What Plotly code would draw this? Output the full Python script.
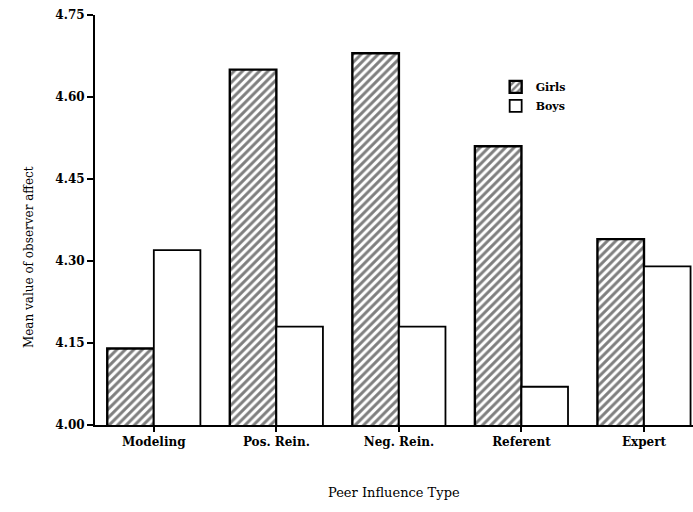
import plotly.graph_objects as go

categories = ["Modeling", "Pos. Rein.", "Neg. Rein.", "Referent", "Expert"]
girls = [4.14, 4.65, 4.68, 4.51, 4.34]
boys = [4.32, 4.18, 4.18, 4.07, 4.29]
y_ticks = [4.00, 4.15, 4.30, 4.45, 4.60, 4.75]

FONT = "DejaVu Serif"
x_idx = list(range(len(categories)))

fig = go.Figure()
fig.add_trace(go.Bar(
    x=x_idx, y=girls, name="Girls",
    width=0.38, offset=-0.38, base=0,
    marker=dict(color="white", line=dict(color="black", width=2.4),
                pattern=dict(shape="/", fgcolor="black", bgcolor="white",
                             size=6, solidity=0.5)),
))
fig.add_trace(go.Bar(
    x=x_idx, y=boys, name="Boys",
    width=0.38, offset=0.0, base=0,
    marker=dict(color="white", line=dict(color="black", width=1.8)),
))

fig.update_layout(
    width=693, height=512,
    margin=dict(l=95, r=0, t=15, b=87),
    paper_bgcolor="white", plot_bgcolor="white",
    barmode="overlay",
    showlegend=True,
    legend=dict(x=0.67, y=0.86, xanchor="left", yanchor="top",
                font=dict(family=FONT, size=11, color="black", weight="bold"),
                bgcolor="rgba(0,0,0,0)", tracegroupgap=0, itemwidth=30),
    font=dict(family=FONT, color="black"),
    xaxis=dict(
        range=[-0.48, 4.40],
        tickmode="array", tickvals=x_idx, ticktext=categories,
        showline=True, linecolor="black", linewidth=2,
        ticks="outside", ticklen=5, tickwidth=2, tickcolor="black",
        showgrid=False, zeroline=False,
        tickfont=dict(family=FONT, size=12, color="black", weight="bold"),
    ),
    yaxis=dict(
        range=[4.00, 4.75],
        tickmode="array", tickvals=y_ticks,
        ticktext=[f"{v:.2f}" for v in y_ticks],
        showline=True, linecolor="black", linewidth=2,
        ticks="outside", ticklen=6, tickwidth=2, tickcolor="black",
        showgrid=False, zeroline=False,
        tickfont=dict(family=FONT, size=12, color="black", weight="bold"),
    ),
    annotations=[
        dict(text="Mean value of observer affect", xref="paper", yref="paper",
             x=-0.11, y=0.41, textangle=-90, showarrow=False,
             xanchor="center", yanchor="middle",
             font=dict(family=FONT, size=12, color="black")),
        dict(text="Peer Influence Type", xref="paper", yref="paper",
             x=0.5, y=-0.165, showarrow=False, xanchor="center", yanchor="middle",
             font=dict(family=FONT, size=13, color="black")),
    ],
)

fig.write_html("out.html")
